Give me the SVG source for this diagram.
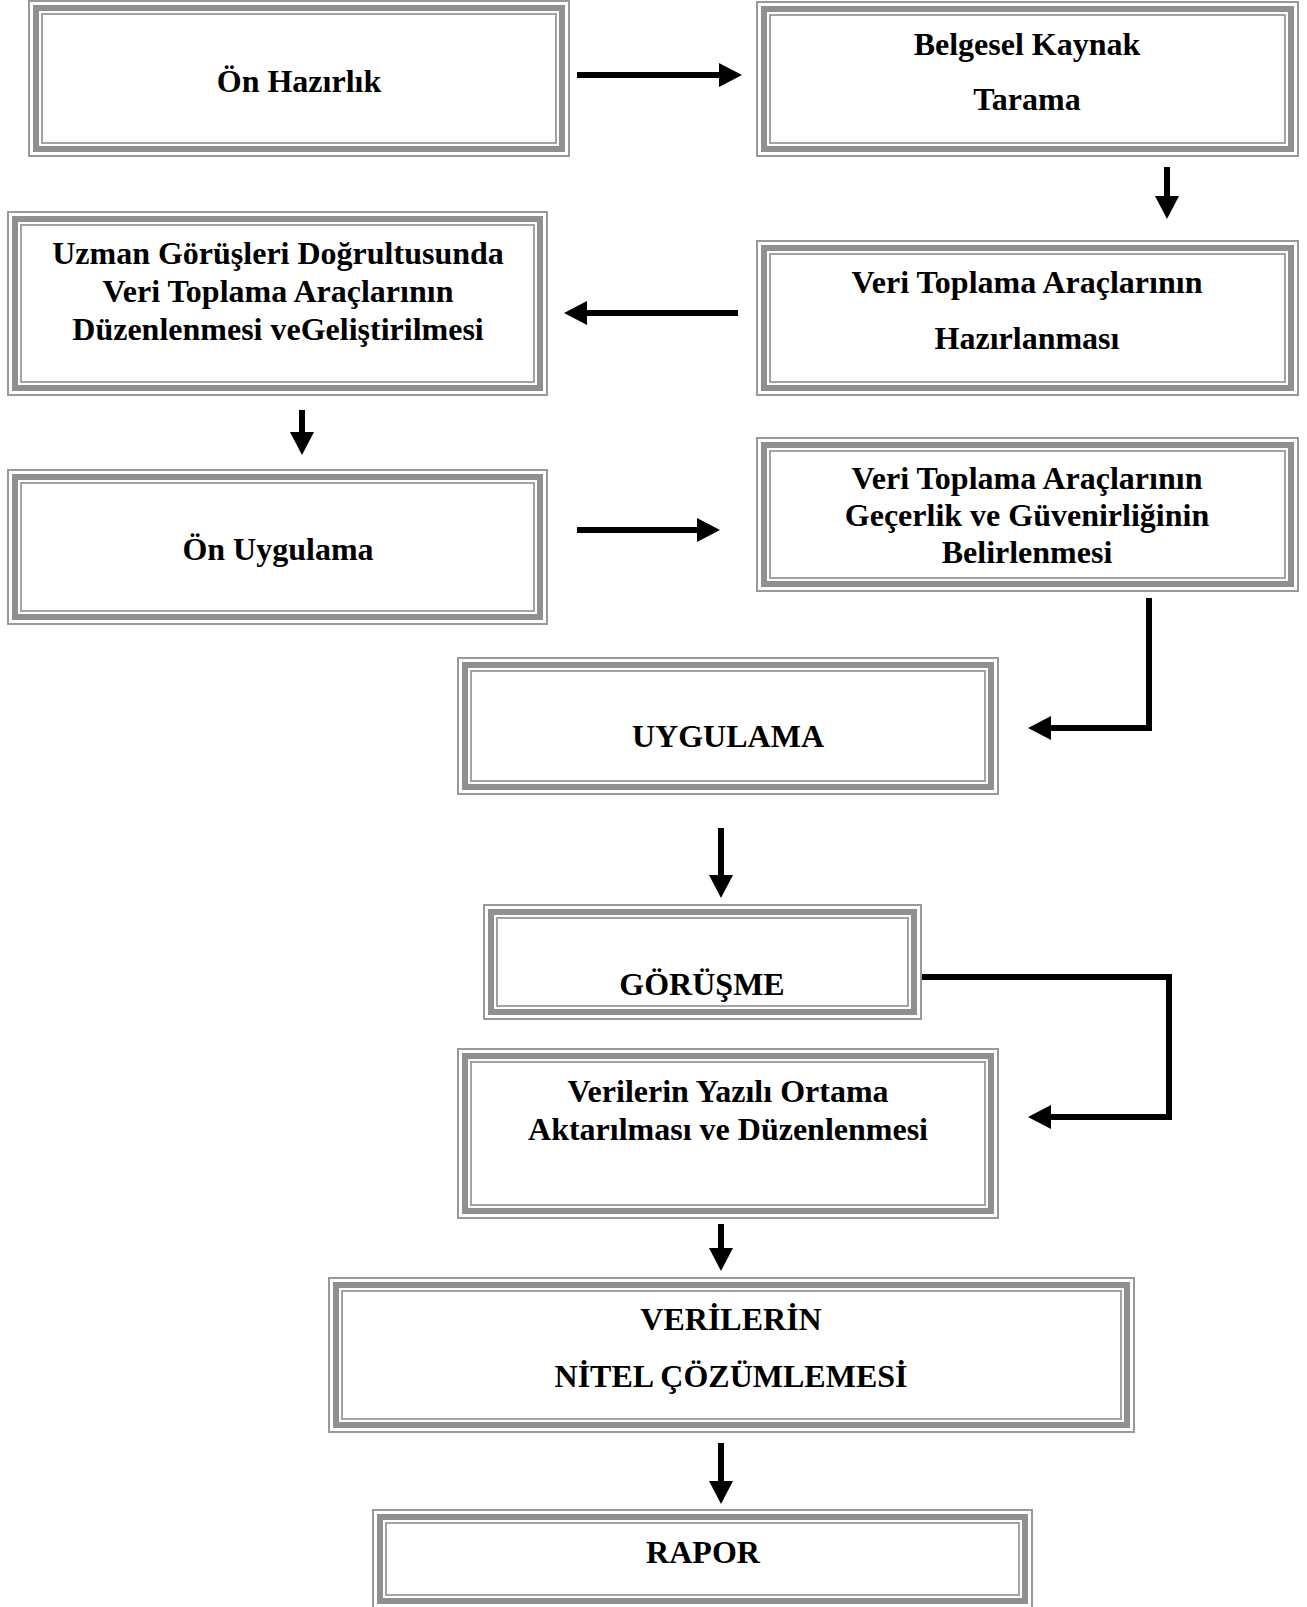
<svg xmlns="http://www.w3.org/2000/svg" width="1307" height="1607" viewBox="0 0 1307 1607">
<style>
  .o{fill:#fff;stroke:#999;stroke-width:2}
  .m{fill:none;stroke:#909090;stroke-width:6}
  .i{fill:none;stroke:#999;stroke-width:1.8}
  text{font-family:"Liberation Serif","Times New Roman",serif;font-weight:bold;font-size:32px;fill:#000;text-anchor:middle}
  .c{fill:none;stroke:#000;stroke-width:6}
</style>
<defs>
  <marker id="ah" markerUnits="userSpaceOnUse" markerWidth="24" markerHeight="26" refX="1" refY="12" orient="auto" viewBox="0 0 24 24">
    <path d="M0,0 L23,12 L0,24 z" fill="#000"/>
  </marker>
</defs>
<g id="connectors">
  <path class="c" d="M577,75 H720" marker-end="url(#ah)"/>
  <path class="c" d="M1167,167 V197" marker-end="url(#ah)"/>
  <path class="c" d="M738,313 H586" marker-end="url(#ah)"/>
  <path class="c" d="M302,410 V433" marker-end="url(#ah)"/>
  <path class="c" d="M577,530 H698" marker-end="url(#ah)"/>
  <path class="c" d="M1149,598 V728 H1050" marker-end="url(#ah)"/>
  <path class="c" d="M721,828 V876" marker-end="url(#ah)"/>
  <path class="c" d="M917,977 H1169 V1117 H1050" marker-end="url(#ah)"/>
  <path class="c" d="M721,1224 V1249" marker-end="url(#ah)"/>
  <path class="c" d="M721,1443 V1482" marker-end="url(#ah)"/>
</g>
<g id="n1">
  <rect class="o" x="29" y="1" width="540" height="155"/>
  <rect class="m" x="36" y="8" width="526" height="141"/>
  <rect class="i" x="42" y="14" width="514" height="129"/>
  <text x="299" y="92">Ön Hazırlık</text>
</g>
<g id="n2">
  <rect class="o" x="757" y="2" width="541" height="154"/>
  <rect class="m" x="764" y="9" width="527" height="140"/>
  <rect class="i" x="770" y="15" width="515" height="128"/>
  <text x="1027" y="55">Belgesel Kaynak</text>
  <text x="1027" y="110">Tarama</text>
</g>
<g id="n3">
  <rect class="o" x="757" y="241" width="541" height="154"/>
  <rect class="m" x="764" y="248" width="527" height="140"/>
  <rect class="i" x="770" y="254" width="515" height="128"/>
  <text x="1027" y="293">Veri Toplama Araçlarının</text>
  <text x="1027" y="349">Hazırlanması</text>
</g>
<g id="n4">
  <rect class="o" x="8" y="212" width="539" height="183"/>
  <rect class="m" x="15" y="219" width="525" height="169"/>
  <rect class="i" x="21" y="225" width="513" height="157"/>
  <text x="278" y="264">Uzman Görüşleri Doğrultusunda</text>
  <text x="278" y="302">Veri Toplama Araçlarının</text>
  <text x="278" y="340">Düzenlenmesi veGeliştirilmesi</text>
</g>
<g id="n5">
  <rect class="o" x="8" y="470" width="539" height="154"/>
  <rect class="m" x="15" y="477" width="525" height="140"/>
  <rect class="i" x="21" y="483" width="513" height="128"/>
  <text x="278" y="560">Ön Uygulama</text>
</g>
<g id="n6">
  <rect class="o" x="757" y="438" width="541" height="153"/>
  <rect class="m" x="764" y="445" width="527" height="139"/>
  <rect class="i" x="770" y="451" width="515" height="127"/>
  <text x="1027" y="489">Veri Toplama Araçlarının</text>
  <text x="1027" y="526">Geçerlik ve Güvenirliğinin</text>
  <text x="1027" y="563">Belirlenmesi</text>
</g>
<g id="n7">
  <rect class="o" x="458" y="658" width="540" height="136"/>
  <rect class="m" x="465" y="665" width="526" height="122"/>
  <rect class="i" x="471" y="671" width="514" height="110"/>
  <text x="728" y="747">UYGULAMA</text>
</g>
<g id="n8">
  <rect class="o" x="484" y="905" width="437" height="114"/>
  <rect class="m" x="491" y="912" width="423" height="100"/>
  <rect class="i" x="497" y="918" width="411" height="88"/>
  <text x="702" y="995">GÖRÜŞME</text>
</g>
<g id="n9">
  <rect class="o" x="458" y="1049" width="540" height="169"/>
  <rect class="m" x="465" y="1056" width="526" height="155"/>
  <rect class="i" x="471" y="1062" width="514" height="143"/>
  <text x="728" y="1102">Verilerin Yazılı Ortama</text>
  <text x="728" y="1140">Aktarılması ve Düzenlenmesi</text>
</g>
<g id="n10">
  <rect class="o" x="329" y="1278" width="805" height="154"/>
  <rect class="m" x="336" y="1285" width="791" height="140"/>
  <rect class="i" x="342" y="1291" width="779" height="128"/>
  <text x="731" y="1330">VERİLERİN</text>
  <text x="731" y="1387">NİTEL ÇÖZÜMLEMESİ</text>
</g>
<g id="n11">
  <rect class="o" x="373" y="1510" width="659" height="110"/>
  <rect class="m" x="380" y="1517" width="645" height="84"/>
  <rect class="i" x="386" y="1523" width="633" height="72"/>
  <text x="703" y="1563">RAPOR</text>
</g>
</svg>
